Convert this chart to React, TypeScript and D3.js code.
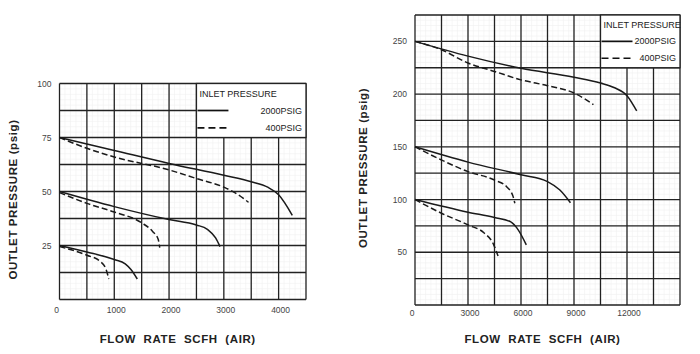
import { useEffect, useRef } from "react";
import * as d3 from "d3";

// left chart (small regulator)
const leftXTicks = [0, 1000, 2000, 3000, 4000];
const leftYTicks = [25, 50, 75, 100];
const left75Solid = [[0, 75], [1000, 69], [2000, 63], [3000, 57.5], [3500, 54.5], [3800, 52], [4000, 48.5], [4250, 39]];
const left75Dash = [[0, 75], [500, 70], [1000, 66], [2000, 60], [2500, 56], [3000, 52], [3200, 49.5], [3450, 45]];
const left50Solid = [[0, 50], [1000, 43], [2000, 37], [2500, 34.5], [2700, 32.5], [2850, 28.5], [2930, 24.5]];
const left50Dash = [[0, 49.5], [500, 44.5], [1000, 40.5], [1500, 35.5], [1700, 31.5], [1800, 28], [1830, 24]];
const left25Solid = [[0, 25], [500, 22], [1000, 18.5], [1200, 16.5], [1300, 14], [1420, 9.5]];
const left25Dash = [[0, 24.5], [500, 20.5], [750, 17.5], [850, 14], [900, 9.5]];

// right chart (large regulator)
const rightXTicks = [0, 3000, 6000, 9000, 12000];
const rightYTicks = [50, 100, 150, 200, 250];
const right250Solid = [[0, 250], [3000, 236], [6000, 224.5], [9000, 216], [10500, 210.5], [11300, 206], [12000, 198.5], [12550, 184]];
const right250Dash = [[0, 250], [1500, 242], [3000, 229.5], [4500, 221.5], [6000, 213.5], [7500, 208], [9000, 201], [10100, 190]];
const right150Solid = [[0, 150], [3000, 135.5], [6000, 123.5], [7500, 117], [8200, 109], [8800, 97]];
const right150Dash = [[0, 150], [1500, 137.5], [3000, 126.5], [4500, 118.5], [5200, 112], [5550, 103], [5650, 96.5]];
const right100Solid = [[0, 100], [3000, 88], [4500, 83], [5400, 79], [5850, 71], [6300, 57]];
const right100Dash = [[0, 100], [1500, 87], [3000, 76], [3900, 68.5], [4400, 59], [4700, 46.5]];

const legendTitle = "INLET PRESSURE";
const legendItems = ["2000PSIG", "400PSIG"];
const yTitle = "OUTLET PRESSURE (psig)";
const xTitle = "FLOW  RATE  SCFH  (AIR)";

const FONT = "'Liberation Sans', Arial, sans-serif";

const panels = [
  {
    box: { x0: 59.5, x1: 306, y0: 83.5, y1: 299.5 },
    xMax: 4500, xStep: 500, yMax: 100, yStep: 12.5,
    xTicks: leftXTicks, yTicks: leftYTicks,
    solid: [left75Solid, left50Solid, left25Solid],
    dash: [left75Dash, left50Dash, left25Dash],
    legend: { x: 2500, y: 75 },
    yTitleX: 17, xTitleY: 343, tickY: 313,
  },
  {
    box: { x0: 415, x1: 680, y0: 15, y1: 305 },
    xMax: 15000, xStep: 1500, yMax: 275, yStep: 25,
    xTicks: rightXTicks, yTicks: rightYTicks,
    solid: [right250Solid, right150Solid, right100Solid],
    dash: [right250Dash, right150Dash, right100Dash],
    legend: { x: 10500, y: 225 },
    yTitleX: 367, xTitleY: 343, tickY: 316,
  },
];

const App = () => {
  const svgRef = useRef<SVGSVGElement>(null);

  useEffect(() => {
    const svg = d3.select(svgRef.current);
    svg.selectAll("*").remove();

    svg.append("rect").attr("width", 700).attr("height", 354).attr("fill", "#fff");

    panels.forEach((p) => {
      const { x0, x1, y0, y1 } = p.box;
      const x = d3.scaleLinear().domain([0, p.xMax]).range([x0, x1]);
      const y = d3.scaleLinear().domain([0, p.yMax]).range([y1, y0]);
      const g = svg.append("g");

      // faint minor grid
      const minorX = d3.range(0, p.xMax + 1e-6, p.xStep / 5);
      const minorY = d3.range(0, p.yMax + 1e-6, p.yStep / 5);
      g.selectAll(".mx").data(minorX).join("line")
        .attr("x1", (d) => x(d)).attr("x2", (d) => x(d))
        .attr("y1", y0).attr("y2", y1)
        .attr("stroke", "#f0f0f0").attr("stroke-width", 0.6);
      g.selectAll(".my").data(minorY).join("line")
        .attr("y1", (d) => y(d)).attr("y2", (d) => y(d))
        .attr("x1", x0).attr("x2", x1)
        .attr("stroke", "#f0f0f0").attr("stroke-width", 0.6);

      // major grid
      const majorX = d3.range(0, p.xMax + 1e-6, p.xStep);
      const majorY = d3.range(0, p.yMax + 1e-6, p.yStep);
      g.selectAll(".gx").data(majorX).join("line")
        .attr("x1", (d) => x(d)).attr("x2", (d) => x(d))
        .attr("y1", y0).attr("y2", y1)
        .attr("stroke", "#222").attr("stroke-width", 1.3);
      g.selectAll(".gy").data(majorY).join("line")
        .attr("y1", (d) => y(d)).attr("y2", (d) => y(d))
        .attr("x1", x0).attr("x2", x1)
        .attr("stroke", "#222").attr("stroke-width", 1.3);

      // legend box (covers grid)
      const lx = x(p.legend.x);
      const ly = y(p.legend.y);
      g.append("rect")
        .attr("x", lx).attr("y", y0)
        .attr("width", x1 - lx).attr("height", ly - y0)
        .attr("fill", "#fff").attr("stroke", "#222").attr("stroke-width", 1.3);
      const lh = ly - y0;
      g.append("text")
        .attr("x", lx + 3).attr("y", y0 + lh * 0.18 + 3.5)
        .attr("font-family", FONT).attr("font-size", 9).attr("fill", "#222")
        .text(legendTitle);
      legendItems.forEach((label, i) => {
        const yy = y0 + lh * (0.5 + i * 0.32);
        g.append("line")
          .attr("x1", lx + 1).attr("x2", lx + 32)
          .attr("y1", yy).attr("y2", yy)
          .attr("stroke", "#111").attr("stroke-width", 1.7)
          .attr("stroke-dasharray", i === 1 ? "7,4" : null);
        g.append("text")
          .attr("x", x1 - 4).attr("y", yy + 3)
          .attr("text-anchor", "end")
          .attr("font-family", FONT).attr("font-size", 9).attr("fill", "#222")
          .text(label);
      });

      // curves
      const line = d3.line<number[]>()
        .x((d) => x(d[0])).y((d) => y(d[1]))
        .curve(d3.curveMonotoneX);
      p.solid.forEach((s) => {
        g.append("path").attr("d", line(s)).attr("fill", "none")
          .attr("stroke", "#1a1a1a").attr("stroke-width", 1.5);
      });
      p.dash.forEach((s) => {
        g.append("path").attr("d", line(s)).attr("fill", "none")
          .attr("stroke", "#1a1a1a").attr("stroke-width", 1.5)
          .attr("stroke-dasharray", "6,3");
      });

      // tick labels
      g.selectAll(".xt").data(p.xTicks).join("text")
        .attr("x", (d) => x(d) + (d === 0 ? -3 : 2)).attr("y", p.tickY)
        .attr("text-anchor", "middle")
        .attr("font-family", FONT).attr("font-size", 8.5).attr("fill", "#444")
        .text((d) => d);
      g.selectAll(".yt").data(p.yTicks).join("text")
        .attr("x", x0 - 8).attr("y", (d) => y(d) + 3)
        .attr("text-anchor", "end")
        .attr("font-family", FONT).attr("font-size", 8.5).attr("fill", "#444")
        .text((d) => d);

      // titles
      g.append("text")
        .attr("transform", `translate(${p.yTitleX},${(y0 + y1) / 2 + 8}) rotate(-90)`)
        .attr("text-anchor", "middle")
        .attr("font-family", FONT).attr("font-size", 11.5).attr("font-weight", "bold")
        .attr("letter-spacing", 0.6).attr("fill", "#222")
        .text(yTitle);
      g.append("text")
        .attr("x", (x0 + x1) / 2 - 5).attr("y", p.xTitleY)
        .attr("text-anchor", "middle")
        .attr("font-family", FONT).attr("font-size", 11.5).attr("font-weight", "bold")
        .attr("letter-spacing", 0.6).attr("fill", "#222")
        .style("white-space", "pre")
        .text(xTitle);
    });
  }, []);

  return (
    <svg
      ref={svgRef}
      width={700}
      height={354}
      style={{ position: "absolute", left: 0, top: 0 }}
    />
  );
};

export default App;
